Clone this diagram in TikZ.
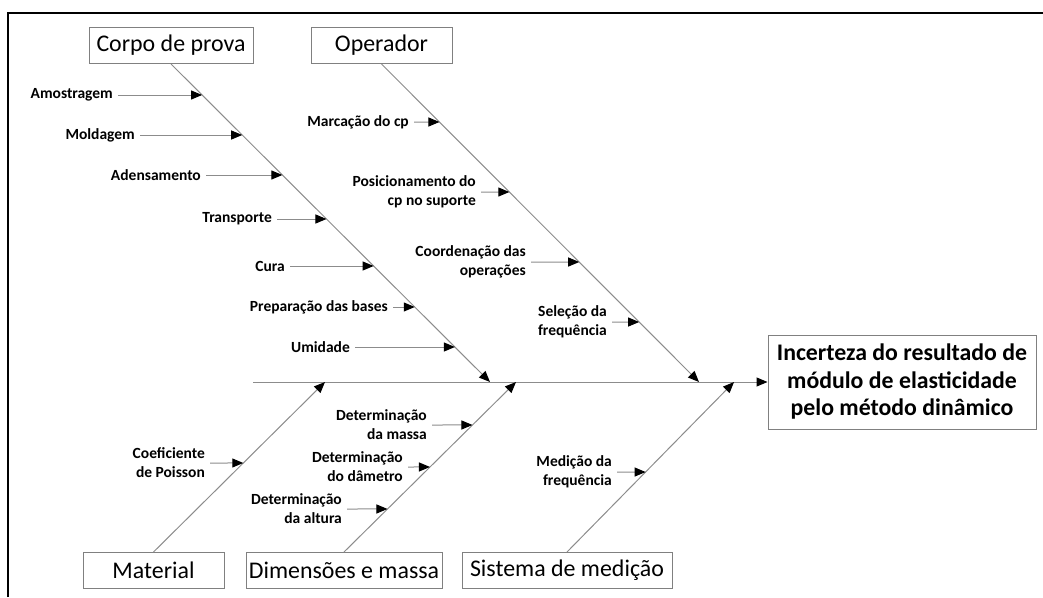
\documentclass[tikz,border=0pt]{standalone}
\usepackage{fontspec}
\setmainfont{Carlito}
\usetikzlibrary{arrows.meta,calc}
\definecolor{linegray}{RGB}{140,140,140}
\definecolor{boxgray}{RGB}{128,128,128}
\newcommand\drawcause[5]{%
  \node[cause] (#1) at #2 {#3};
  \draw[bone] (#1.east) -- (intersection cs: first line={(#1.east)--($(#1.east)+(10,0)$)}, second line={(#4)--(#5)});
}
\begin{document}
\begin{tikzpicture}[x=1pt,y=-1pt,
  catbox/.style={draw=boxgray,line width=1pt,inner sep=0pt,minimum height=36,font=\fontsize{23.9}{28}\selectfont},
  cause/.style={anchor=east,inner xsep=5pt,inner ysep=0pt,align=right,font=\bfseries\fontsize{15.5}{19}\selectfont},
  bone/.style={draw=linegray,line width=1pt,-{Triangle[length=11pt,width=9pt,color=black]}},
]
\useasboundingbox (0,0) rectangle (1043,597);
\draw[line width=2pt] (8,597) -- (8,13) -- (1043,13);

% category boxes
\node[catbox,minimum width=164] (corpo) at (171,45.5) {Corpo de prova};
\node[catbox,minimum width=141] (oper) at (381.5,45.5) {Operador};
\node[catbox,minimum width=141] (mat) at (153.5,570.5) {Material};
\node[catbox,minimum width=196] (dim) at (344,570.5) {Dimensões e massa};
\node[catbox,minimum width=210] (sis) at (567,570.5) {Sistema de medição};

% effect
\node[draw=boxgray,line width=1pt,minimum width=268,minimum height=94,inner sep=0pt,align=center,
  font=\bfseries\fontsize{23.8}{27.5}\selectfont] (title) at (902,382)
  {Incerteza do resultado de\\módulo de elasticidade\\pelo método dinâmico};

% spine
\coordinate (spS) at (253,382);
\draw[bone] (spS) -- (title.west);

% bone ends on the spine
\coordinate (cpE) at (490,382);
\coordinate (opE) at (699,382);
\coordinate (maE) at (325,382);
\coordinate (diE) at (516,382);
\coordinate (siE) at (734,382);

\draw[bone] (corpo.south) -- (cpE);
\draw[bone] (oper.south) -- (opE);
\draw[bone] (mat.north) -- (maE);
\draw[bone] (dim.north) -- (diE);
\draw[bone] (sis.north) -- (siE);

% Corpo de prova
\drawcause{c1}{(118,95)}{Amostragem}{corpo.south}{cpE}
\drawcause{c2}{(140,135)}{Moldagem}{corpo.south}{cpE}
\drawcause{c3}{(206,175)}{Adensamento}{corpo.south}{cpE}
\drawcause{c4}{(277,219)}{Transporte}{corpo.south}{cpE}
\drawcause{c5}{(290,266)}{Cura}{corpo.south}{cpE}
\drawcause{c6}{(393,307)}{Preparação das bases}{corpo.south}{cpE}
\drawcause{c7}{(355,347)}{Umidade}{corpo.south}{cpE}

% Operador
\drawcause{o1}{(414,122)}{Marcação do cp}{oper.south}{opE}
\drawcause{o2}{(481,192)}{Posicionamento do\\cp no suporte}{oper.south}{opE}
\drawcause{o3}{(531,262)}{Coordenação das\\operações}{oper.south}{opE}
\drawcause{o4}{(612,322)}{Seleção da\\frequência}{oper.south}{opE}

% Material
\drawcause{m1}{(210,463)}{Coeficiente\\de Poisson}{mat.north}{maE}

% Dimensões e massa
\drawcause{d1}{(432,425)}{Determinação\\da massa}{dim.north}{diE}
\drawcause{d2}{(408,467)}{Determinação\\do dâmetro}{dim.north}{diE}
\drawcause{d3}{(347,509)}{Determinação\\da altura}{dim.north}{diE}

% Sistema de medição
\drawcause{s1}{(617,472)}{Medição da\\frequência}{sis.north}{siE}
\end{tikzpicture}
\end{document}
